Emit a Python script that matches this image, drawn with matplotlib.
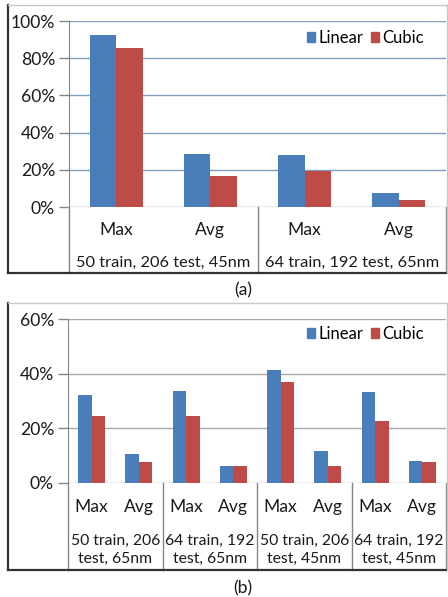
import numpy as np
import matplotlib.pyplot as plt
import matplotlib.transforms as mtransforms
from matplotlib.lines import Line2D
from matplotlib.patches import Patch

# === Daten ===
series_names = ['Linear', 'Cubic']
sub_labels = ['Max', 'Avg']

groups_a = ['50 train, 206 test, 45nm', '64 train, 192 test, 65nm']
linear_a = [92.5, 28.7, 27.8, 7.5]
cubic_a = [85.5, 16.8, 19.5, 3.6]
yticks_a = [0, 20, 40, 60, 80, 100]

groups_b = ['50 train, 206\ntest, 65nm', '64 train, 192\ntest, 65nm',
            '50 train, 206\ntest, 45nm', '64 train, 192\ntest, 45nm']
linear_b = [32.0, 10.6, 33.7, 6.2, 41.4, 11.5, 33.2, 7.8]
cubic_b = [24.3, 7.6, 24.6, 6.2, 36.9, 6.2, 22.5, 7.6]
yticks_b = [0, 20, 40, 60]

BLUE = '#4a7ebb'
RED = '#be4b48'
W, H = 448, 597
FS = 12.6

plt.rcParams['font.family'] = ['Lato', 'DejaVu Sans']
fig = plt.figure(figsize=(W / 100, H / 100), dpi=100)


def fy(py):
    # Pixel-y (von oben) -> Figure-Koordinate
    return 1 - py / H


def panel(left, right, y0, ytop, table_bottom, label_y, group_y, linear, cubic,
          groups, yticks, grid_color, bar_w, legend_y, caption, caption_y,
          frame_top, fs_group):
    ax = fig.add_axes([left / W, fy(y0), (right - left) / W, (y0 - ytop) / H])
    n = len(linear)
    x = np.arange(n) + 0.5
    ax.bar(x - bar_w / 2, linear, bar_w, color=BLUE, label=series_names[0], zorder=3)
    ax.bar(x + bar_w / 2, cubic, bar_w, color=RED, label=series_names[1], zorder=3)
    ax.set_xlim(0, n)
    ax.set_ylim(0, yticks[-1])
    ax.set_yticks(yticks)
    ax.set_yticklabels([f'{t}%' for t in yticks], fontsize=FS, color='#1a1a1a')
    ax.set_xticks([])
    ax.tick_params(axis='y', length=7, width=1, color='#868686', pad=3)
    for t in yticks:
        ax.axhline(t, color=grid_color, lw=1, zorder=1)
    for s in ['top', 'right', 'bottom']:
        ax.spines[s].set_visible(False)
    ax.spines['left'].set_color('#868686')

    # Kategorie-Tabelle unter der Achse
    tr = mtransforms.blended_transform_factory(ax.transData, fig.transFigure)
    per_group = n // len(groups)
    for k in range(len(groups) + 1):
        xv = k * per_group
        ax.add_line(Line2D([xv, xv], [fy(y0), fy(table_bottom)], transform=tr,
                           color='#868686', lw=1, clip_on=False))
    for i in range(n):
        ax.text(x[i], fy(label_y), sub_labels[i % 2], transform=tr, ha='center',
                va='center', fontsize=FS, color='#1a1a1a')
    for k, g in enumerate(groups):
        ax.text(k * per_group + per_group / 2, fy(group_y), g, transform=tr,
                ha='center', va='center', fontsize=fs_group, color='#1a1a1a',
                linespacing=1.3)

    handles = [Patch(color=BLUE), Patch(color=RED)]
    ax.legend(handles, series_names, loc='center right',
              bbox_to_anchor=(0.96, (y0 - legend_y) / (y0 - ytop)), ncol=2,
              frameon=False, fontsize=12, handlelength=0.5, handleheight=0.5,
              handletextpad=0.2, columnspacing=0.45, borderaxespad=0)

    # Rahmen
    fig.add_artist(Line2D([8 / W, 8 / W], [fy(frame_top), fy(table_bottom)],
                          color='#333333', lw=1.6))
    fig.add_artist(Line2D([8 / W, 1], [fy(table_bottom), fy(table_bottom)],
                          color='#333333', lw=1.6))
    fig.add_artist(Line2D([8 / W, 1], [fy(frame_top), fy(frame_top)],
                          color='#c8c8c8', lw=1))
    fig.add_artist(Line2D([447 / W, 447 / W], [fy(frame_top), fy(table_bottom)],
                          color='#c8c8c8', lw=1))
    fig.text(243 / W, fy(caption_y), caption, ha='center', va='center',
             fontsize=FS, color='#1a1a1a')
    return ax


panel(69, 446, 207, 21, 273, 230, 263, linear_a, cubic_a, groups_a, yticks_a,
      '#7f9fbd', 0.28, 38, '(a)', 290, 5, 11.8)
panel(68, 446, 482.7, 319, 570, 507, 550, linear_b, cubic_b, groups_b, yticks_b,
      '#a6a6a6', 0.285, 334, '(b)', 588, 303, 11.3)

plt.savefig('out.png', dpi=100)
